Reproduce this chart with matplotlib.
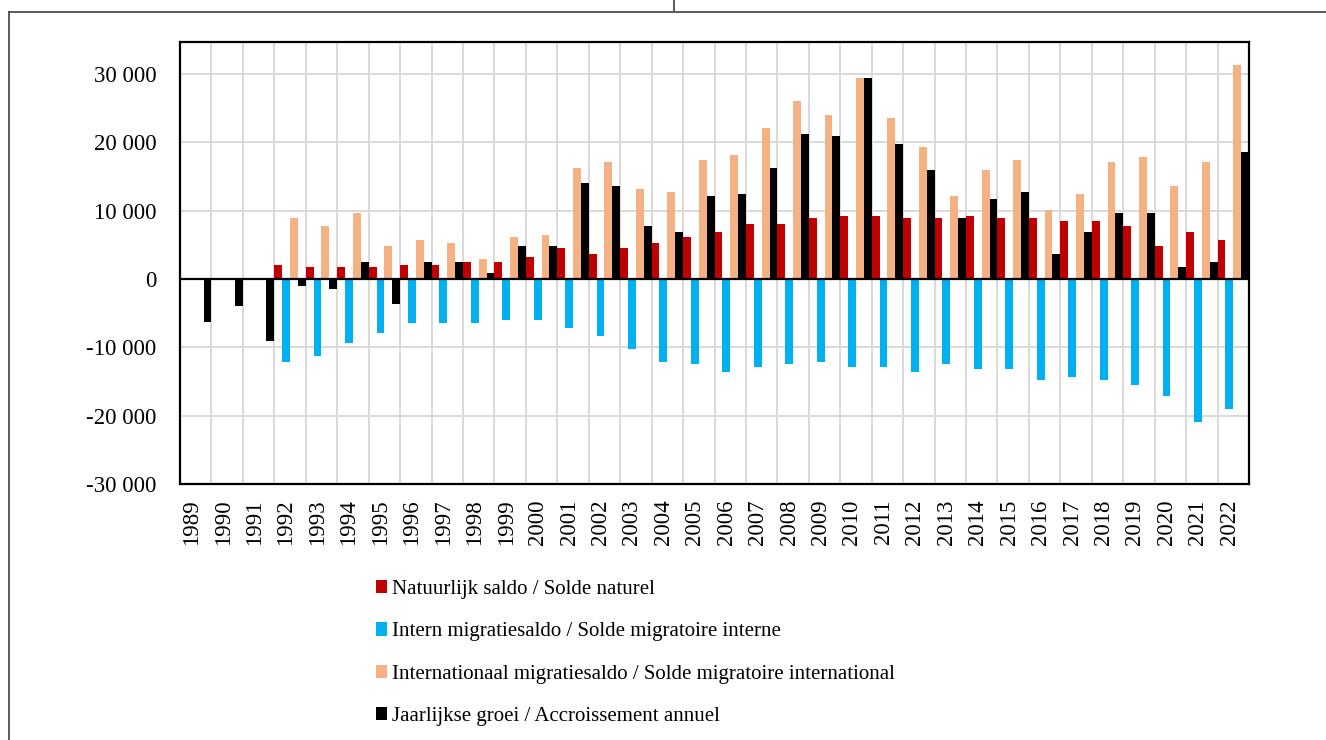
import numpy as np
import matplotlib
matplotlib.use('Agg')
import matplotlib.pyplot as plt
from matplotlib.lines import Line2D
from matplotlib.transforms import ScaledTranslation

plt.rcParams['font.family'] = ['Liberation Serif', 'DejaVu Serif']

# data
years = [str(y) for y in range(1989, 2023)]
natuurlijk = [0, 0, 0, 2100, 1700, 1700, 1700, 2100, 2100, 2500, 2500, 3300,
              4500, 3700, 4500, 5300, 6100, 6900, 8100, 8100, 8900, 9300,
              9300, 8900, 8900, 9300, 8900, 8900, 8500, 8500, 7700, 4900,
              6900, 5700]
intern = [0, 0, 0, -12100, -11300, -9400, -7900, -6400, -6400, -6400, -6000, -6000,
          -7100, -8300, -10200, -12100, -12500, -13600, -12900, -12500, -12100, -12900,
          -12900, -13600, -12500, -13200, -13200, -14800, -14400, -14800, -15500, -17100,
          -20900, -19000]
internationaal = [0, 0, 0, 8900, 7700, 9700, 4900, 5700, 5300, 2900, 6100, 6500,
                  16300, 17100, 13200, 12800, 17400, 18200, 22100, 26000, 24000, 29400,
                  23600, 19400, 12100, 15900, 17400, 10100, 12400, 17100, 17800, 13600,
                  17100, 31300]
groei = [-6300, -4000, -9000, -1000, -1400, 2500, -3700, 2500, 2500, 900, 4900, 4900,
         14000, 13600, 7700, 6900, 12100, 12400, 16300, 21300, 20900, 29400,
         19800, 15900, 8900, 11700, 12800, 3700, 6900, 9700, 9700, 1700,
         2500, 18600]

labels = ['Natuurlijk saldo / Solde naturel',
          'Intern migratiesaldo / Solde migratoire interne',
          'Internationaal migratiesaldo / Solde migratoire international',
          'Jaarlijkse groei / Accroissement annuel']
colors = ['#C00000', '#00B0F0', '#F4B183', '#000000']

fig = plt.figure(figsize=(13.26, 7.4), dpi=100)
ax = fig.add_axes([180/1326, 1-484/740, (1249-180)/1326, (484-42)/740])

x = np.arange(len(years))
w = 0.25
series = [natuurlijk, intern, internationaal, groei]
for i, (vals, c, lab) in enumerate(zip(series, colors, labels)):
    ax.bar(x + (i - 1.5)*w, vals, width=w, color=c, label=lab, zorder=3)

ax.set_xlim(-0.5, len(years) - 0.5)
ax.set_ylim(-30000, 34700)
ax.set_yticks(np.arange(-30000, 30001, 10000))
ax.set_yticklabels([f"{v:,}".replace(',', ' ') for v in range(-30000, 30001, 10000)])
ax.set_xticks(x)
ax.set_xticklabels(years, rotation=90)
ax.tick_params(axis='both', length=0, labelsize=16.5)
ax.tick_params(axis='y', pad=17)
ax.tick_params(axis='x', pad=11)
# labels sit a little left of the category centre in the original
for lbl in ax.get_xticklabels():
    lbl.set_transform(lbl.get_transform() + ScaledTranslation(-0.04, 0, fig.dpi_scale_trans))

# gridlines: horizontal at ticks, vertical between categories
for v in range(-30000, 30001, 10000):
    ax.axhline(v, color='#d9d9d9', lw=1.4, zorder=1)
for b in np.arange(-0.5, len(years), 1.0):
    ax.axvline(b, color='#d9d9d9', lw=1.4, zorder=1)
ax.axhline(0, color='black', lw=1.6, zorder=4)

for s in ax.spines.values():
    s.set_linewidth(1.6)
    s.set_zorder(5)

ax.legend(loc='upper left', bbox_to_anchor=(376/1326, 1-580/740),
          bbox_transform=fig.transFigure, frameon=False, fontsize=15,
          handlelength=0.51, handleheight=0.61, handletextpad=0.24,
          labelspacing=1.12, borderpad=0, borderaxespad=0)

# outer frame
fig.add_artist(Line2D([9/1326, 1], [1-12/740, 1-12/740], color='#404040', lw=1.2,
                      transform=fig.transFigure))
fig.add_artist(Line2D([9/1326, 9/1326], [0, 1-12/740], color='#404040', lw=1.2,
                      transform=fig.transFigure))
fig.add_artist(Line2D([674/1326, 674/1326], [1-12/740, 1], color='#606060', lw=1.5,
                      transform=fig.transFigure))

fig.savefig('out.png', dpi=100)
